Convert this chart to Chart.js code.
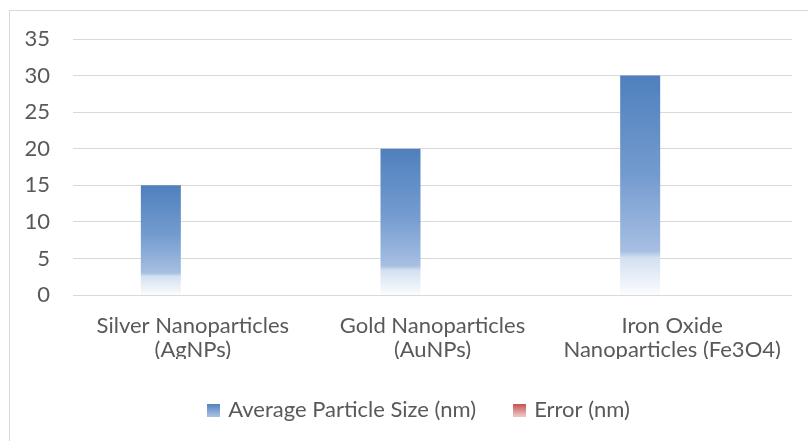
<!DOCTYPE html>
<html lang="en">
<head>
    <meta charset="UTF-8">
    <script src="https://cdn.jsdelivr.net/npm/chart.js@4.4.0/dist/chart.umd.min.js"></script>
    <title>Nanoparticle size</title>
    <style>
        body{margin:0; background:#fff;}
        #frame{position:absolute; left:9px; top:10px; width:830px; height:470px; border:1px solid #d9d9d9;}
        #wrap{position:absolute; left:0; top:0; width:808px; height:441px;}
    </style>
</head>
<body>
    <div id="frame"></div>
    <div id="wrap"><canvas id="myChart"></canvas></div>
    <script>
        // chart data
        const categories = [
            ['Silver Nanoparticles', '(AgNPs)'],
            ['Gold Nanoparticles', '(AuNPs)'],
            ['Iron Oxide', 'Nanoparticles (Fe3O4)']
        ]
        const avgSize = [15, 20, 30]
        const errorNm = [0, 0, 0]
        const seriesNames = ['Average Particle Size (nm)', 'Error (nm)']
        const yMax = 35
        const yStep = 5

        const FONT = 'Lato, "Noto Sans", sans-serif'
        const TEXT = '#595959'
        const FSIZE = 22

        // Excel-like vertical fill: strong at top, fading to white at the base
        function barFill(ctx, stops, solid){
            const chart = ctx.chart
            if(!chart.chartArea || ctx.raw === undefined) return solid
            const y = chart.scales.y
            const top = y.getPixelForValue(ctx.raw)
            const bot = y.getPixelForValue(0)
            if(bot - top < 1) return solid
            const g = chart.ctx.createLinearGradient(0, top, 0, bot)
            stops.forEach(s => g.addColorStop(s[0], s[1]))
            return g
        }
        const blueStops = [[0,'#4f80bd'],[0.45,'#739bcf'],[0.8,'#a7bfe2'],[0.83,'#d3e0f1'],[1,'#fbfcfe']]
        const redStops = [[0,'#c0504d'],[0.45,'#d37c7a'],[0.8,'#e6aeac'],[0.83,'#f1d4d3'],[1,'#fdf8f8']]

        function legendSwatch(top, bottom){
            const c = document.createElement('canvas')
            c.width = 13; c.height = 13
            const x = c.getContext('2d')
            const g = x.createLinearGradient(0, 0, 0, 13)
            g.addColorStop(0, top); g.addColorStop(1, bottom)
            x.fillStyle = g
            x.fillRect(0, 0, 13, 13)
            return c
        }
        const swatches = [legendSwatch('#4f80bd', '#a9c1e3'), legendSwatch('#c0504d', '#f0c8c7')]

        // legend sits a little right of centre, as in the original
        const legendShift = {
            id: 'legendShift',
            afterLayout(chart){
                chart.legend.left += 24
                chart.legend.right += 24
            }
        }

        const chart = new Chart(document.getElementById('myChart'), {
            type: 'bar',
            data: {
                labels: categories,
                datasets: [{
                    label: seriesNames[0],
                    data: avgSize,
                    backgroundColor: ctx => barFill(ctx, blueStops, '#4f80bd')
                },{
                    label: seriesNames[1],
                    data: errorNm,
                    backgroundColor: ctx => barFill(ctx, redStops, '#c0504d')
                }]
            },
            plugins: [legendShift],
            options: {
                responsive: true,
                maintainAspectRatio: false,
                animation: false,
                categoryPercentage: 0.534,
                barPercentage: 0.625,
                layout: {padding: {top: 39, right: 16, left: 0, bottom: 10}},
                plugins: {
                    tooltip: {enabled: false},
                    legend: {
                        position: 'bottom',
                        labels: {
                            font: {family: FONT, size: FSIZE},
                            color: TEXT,
                            usePointStyle: true,
                            pointStyleWidth: 7,
                            padding: 40,
                            generateLabels: function(c){
                                return c.data.datasets.map((d, i) => ({
                                    text: d.label,
                                    pointStyle: swatches[i],
                                    fontColor: TEXT,
                                    datasetIndex: i,
                                    lineWidth: 0,
                                    hidden: false
                                }))
                            }
                        }
                    }
                },
                scales: {
                    x: {
                        grid: {display: false},
                        border: {display: false},
                        ticks: {font: {family: FONT, size: FSIZE, lineHeight: 1.1}, color: TEXT, maxRotation: 0, autoSkip: false, padding: 11},
                        afterFit: s => { s.height = 64 }
                    },
                    y: {
                        min: 0,
                        max: yMax,
                        ticks: {stepSize: yStep, font: {family: FONT, size: FSIZE}, color: TEXT, padding: 23},
                        grid: {color: '#d9d9d9', drawTicks: false},
                        border: {display: false},
                        afterFit: s => { s.width = 73 }
                    }
                }
            }
        })
    </script>
</body>
</html>
